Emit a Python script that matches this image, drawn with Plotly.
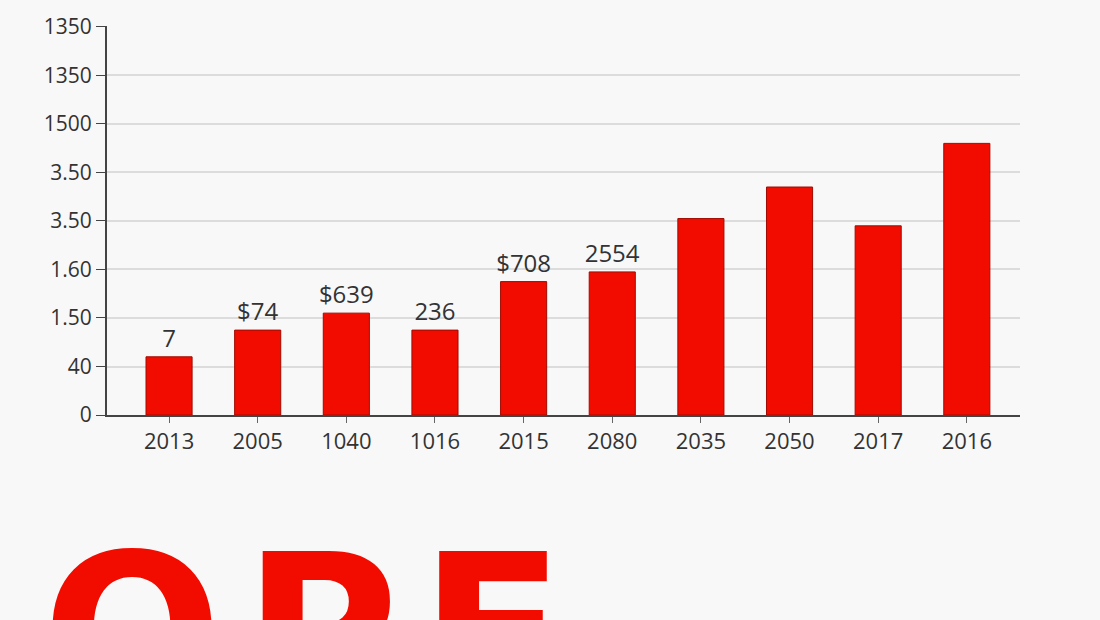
import plotly.graph_objects as go

categories = ["2013", "2005", "1040", "1016", "2015", "2080", "2035", "2050", "2017", "2016"]
values = [1.2, 1.75, 2.1, 1.75, 2.75, 2.95, 4.05, 4.7, 3.9, 5.6]
bar_labels = ["7", "$74", "$639", "236", "$708", "2554", "", "", "", ""]
y_tick_vals = [0, 1, 2, 3, 4, 5, 6, 7, 8]
y_tick_text = ["0", "40", "1.50", "1.60", "3.50", "3.50", "1500", "1350", "1350"]
big_word = "OPE"

RED = "#F20C00"
TXT = "#333333"
FONT = "Open Sans"
BG = "#f8f8f8"

fig = go.Figure()
fig.add_trace(go.Bar(
    x=list(range(len(categories))),
    y=values,
    text=bar_labels,
    textposition="outside",
    constraintext="none",
    textfont=dict(family=FONT, size=24, color=TXT),
    cliponaxis=False,
    marker=dict(color=RED, line=dict(color="#a00a00", width=1)),
    width=0.52,
    hoverinfo="skip",
))

W, H = 1100, 620
ml, mr, mt, mb = 107, 80, 23, 205
pw, ph = W - ml - mr, H - mt - mb

def px_to_paper(px, py):
    return (px - ml) / pw, (H - mb - py) / ph

xp, yp = px_to_paper(40, 508)
fig.add_annotation(
    x=xp, y=yp, xref="paper", yref="paper", xanchor="left", yanchor="top",
    text="<b>" + "\u200a".join(big_word) + "</b>", showarrow=False,
    font=dict(family="DejaVu Sans", size=212, color=RED),
)

fig.update_layout(
    width=W, height=H,
    margin=dict(l=ml, r=mr, t=mt, b=mb),
    paper_bgcolor=BG,
    plot_bgcolor=BG,
    showlegend=False,
    bargap=0.45,
    xaxis=dict(
        tickmode="array",
        tickvals=list(range(len(categories))),
        ticktext=categories,
        range=[-0.7, 9.6],
        showline=True, linecolor="#444444", linewidth=2,
        ticks="outside", ticklen=6, tickcolor="#666666",
        tickfont=dict(family=FONT, size=22, color=TXT),
        showgrid=False, zeroline=False,
    ),
    yaxis=dict(
        tickmode="array",
        tickvals=y_tick_vals,
        ticktext=y_tick_text,
        range=[0, 8.02],
        showline=True, linecolor="#444444", linewidth=2,
        ticks="outside", ticklen=9, tickcolor="#444444",
        tickfont=dict(family=FONT, size=21, color=TXT),
        showgrid=True, gridcolor="#dcdcdc", gridwidth=1.5,
        zeroline=False,
    ),
)

fig.write_html(
    "out.html",
    config={"displayModeBar": False},
    post_script="document.body.style.margin='0';document.body.style.background='" + BG + "';",
)
